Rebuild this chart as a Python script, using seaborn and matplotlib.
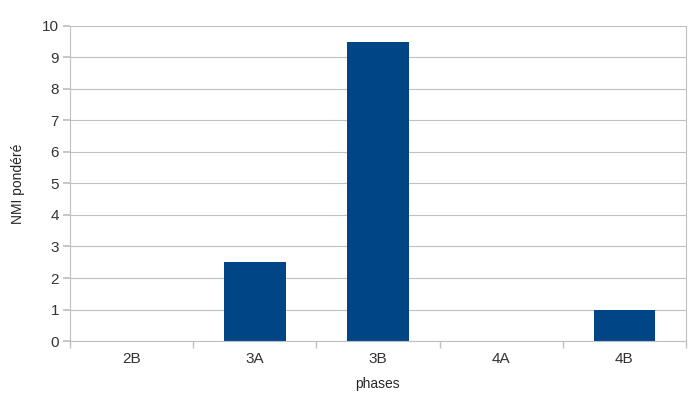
import matplotlib
matplotlib.use("Agg")
import matplotlib.pyplot as plt
import seaborn as sns
import pandas as pd
import numpy as np
from matplotlib.ticker import FixedLocator

phases = ["2B", "3A", "3B", "4A", "4B"]
values = [0, 2.5, 9.5, 0, 1]

sns.set_theme(style="white")
plt.rcParams['font.family'] = ['Liberation Sans', 'DejaVu Sans']

df = pd.DataFrame({"phases": phases, "NMI pondéré": values})

fig = plt.figure(figsize=(6.95, 4.12), dpi=100)
ax = fig.add_axes([0.1007, 0.1723, 0.8863, 0.7647])
sns.barplot(data=df, x="phases", y="NMI pondéré", order=phases, color="#004586",
            saturation=1, width=0.5, linewidth=0, ax=ax)
ax.set_xlim(-0.5, len(phases) - 0.5)
ax.set_ylim(0, 10)
ax.set_yticks(range(0, 11))
ax.yaxis.grid(True, color="#c0c0c0", linewidth=0.8)
ax.set_axisbelow(True)
for s in ["left", "bottom", "right"]:
    ax.spines[s].set_visible(True)
    ax.spines[s].set_color("#c0c0c0")
    ax.spines[s].set_linewidth(0.8)
ax.spines["top"].set_visible(False)
ax.tick_params(axis="y", which="major", length=5, color="#c0c0c0", labelsize=11, pad=3, left=True)
ax.tick_params(axis="x", which="major", length=0, labelsize=11, pad=8)
ax.xaxis.set_minor_locator(FixedLocator(np.arange(-0.5, len(phases), 1.0)))
ax.tick_params(axis="x", which="minor", length=5, color="#c0c0c0", bottom=True)
ax.set_xlabel("phases", fontsize=10, labelpad=8)
ax.set_ylabel("NMI pondéré", fontsize=10, labelpad=12)
for t in ax.get_xticklabels() + ax.get_yticklabels():
    t.set_color("#333333")
fig.savefig("out.png", dpi=100)
